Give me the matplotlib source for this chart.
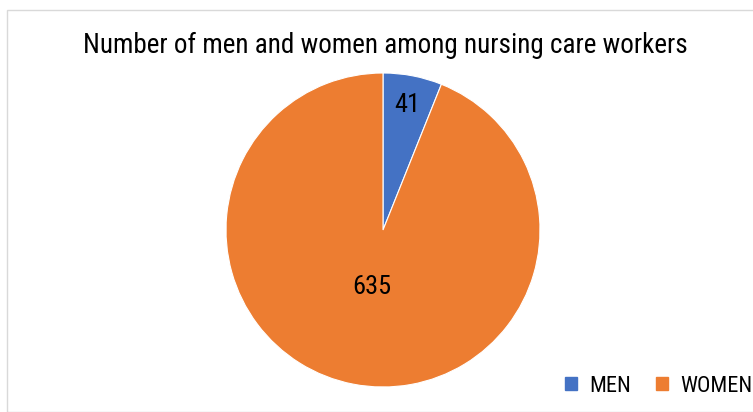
import matplotlib.pyplot as plt
import matplotlib.patches as mpatches
import numpy as np

# data
labels = ["MEN", "WOMEN"]
values = [41, 635]
colors = ["#4472C4", "#ED7D31"]
label_dist = [0.81, 0.37]

plt.rcParams['font.family'] = ['Roboto Condensed', 'Liberation Sans', 'DejaVu Sans']

W, H = 753, 412
fig = plt.figure(figsize=(W / 100, H / 100), dpi=100)

# light gray chart border
fig.patches.append(mpatches.Rectangle((7 / W, 0), 1.0, 1 - 10 / H, transform=fig.transFigure,
                                      fill=False, edgecolor="#D9D9D9", linewidth=1.0))

# pie centered at (383, 230) px, radius 157 px
cx, cy, r = 383, 230, 157
ax = fig.add_axes([(cx - r) / W, (H - cy - r) / H, 2 * r / W, 2 * r / H])
wedges, _ = ax.pie(values, colors=colors, startangle=90, counterclock=False,
                   wedgeprops=dict(edgecolor="white", linewidth=0.8))
ax.set_xlim(-1, 1)
ax.set_ylim(-1, 1)
ax.set_aspect("equal")
ax.axis("off")

for w, v, d in zip(wedges, values, label_dist):
    ang = np.deg2rad((w.theta1 + w.theta2) / 2)
    ax.text(d * np.cos(ang), d * np.sin(ang), str(v), ha="center", va="center",
            fontsize=19, color="black")

fig.text(385 / W, 1 - 45 / H, "Number of men and women among nursing care workers",
         ha="center", va="center", fontsize=19.5, color="black")

handles = [mpatches.Patch(color=c) for c in colors]
fig.legend(handles, labels, loc="center left", bbox_to_anchor=(565 / W, 1 - 386 / H),
           ncol=2, frameon=False, fontsize=16, handlelength=0.55, handleheight=0.55,
           handletextpad=0.55, columnspacing=1.1, borderpad=0, borderaxespad=0)

fig.savefig("out.png", dpi=100)
